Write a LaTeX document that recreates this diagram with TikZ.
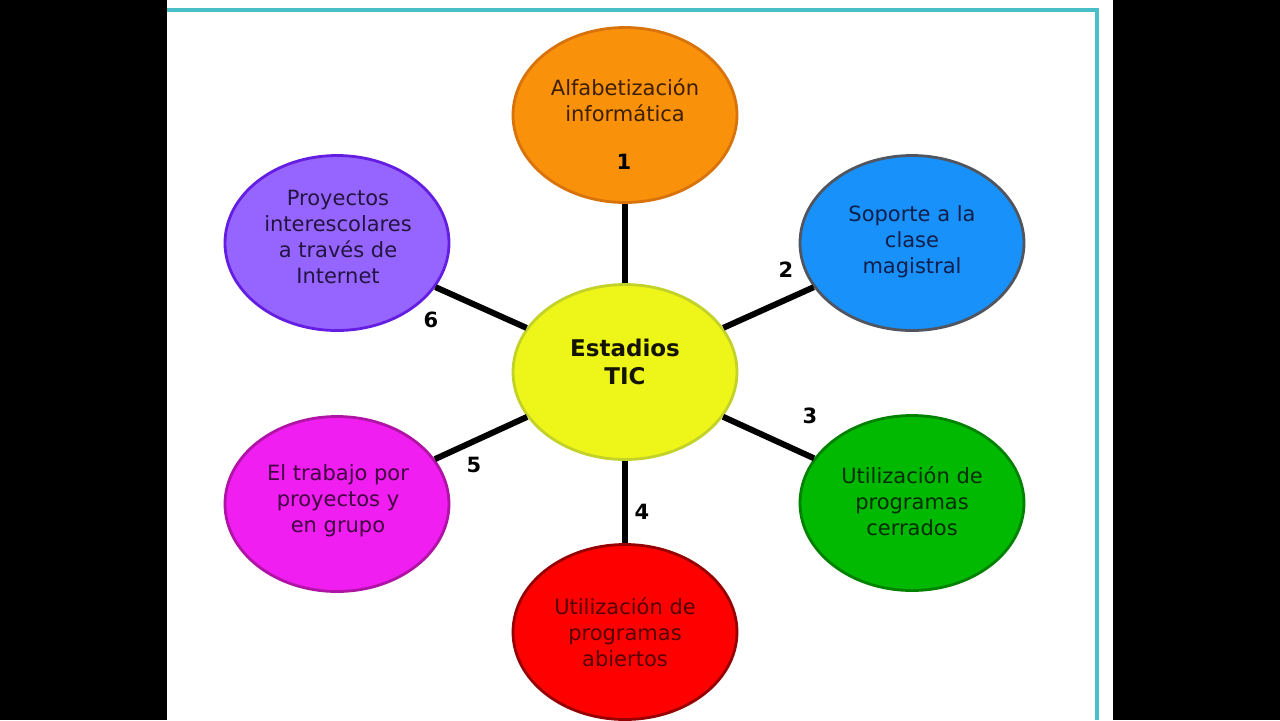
\documentclass[tikz,border=0pt]{standalone}
\usepackage{fontspec}
\setmainfont{DejaVu Sans}
\usetikzlibrary{shapes.geometric}
\definecolor{tealline}{RGB}{72,190,200}
\definecolor{orF}{RGB}{250,145,10}\definecolor{orD}{RGB}{215,115,10}\definecolor{orT}{RGB}{60,30,0}
\definecolor{blF}{RGB}{25,145,250}\definecolor{blD}{RGB}{80,85,95}\definecolor{blT}{RGB}{15,30,75}
\definecolor{puF}{RGB}{150,100,255}\definecolor{puD}{RGB}{100,30,225}\definecolor{puT}{RGB}{35,20,65}
\definecolor{yeF}{RGB}{238,245,25}\definecolor{yeD}{RGB}{195,210,40}\definecolor{yeT}{RGB}{20,20,0}
\definecolor{maF}{RGB}{240,30,240}\definecolor{maD}{RGB}{175,20,165}\definecolor{maT}{RGB}{65,0,65}
\definecolor{grF}{RGB}{0,185,0}\definecolor{grD}{RGB}{0,130,0}\definecolor{grT}{RGB}{0,45,0}
\definecolor{reF}{RGB}{255,0,0}\definecolor{reD}{RGB}{150,0,0}\definecolor{reT}{RGB}{85,0,0}
\begin{document}
\begin{tikzpicture}[x=0.5pt,y=-0.5pt,
  bubble/.style={ellipse, minimum width=112pt, minimum height=87.5pt, inner sep=0pt, line width=1.4pt},
  btext/.style={align=center, inner sep=0pt, font=\fontsize{10.5}{13}\selectfont},
  link/.style={line width=3pt, draw=black},
  num/.style={inner sep=0pt, font=\fontsize{10.5}{12}\selectfont\bfseries}]
\useasboundingbox (0,0) rectangle (1280,720);
\fill[black] (0,0) rectangle (167,720);
\fill[black] (1113,0) rectangle (1280,720);
\fill[white] (167,0) rectangle (1113,720);
\draw[tealline, line width=2pt] (167,10) -- (1097,10) -- (1097,720);

% ellipses
\node[bubble, fill=orF, draw=orD] (alfa) at (625,115) {};
\node[bubble, fill=blF, draw=blD] (sop) at (912,243) {};
\node[bubble, fill=puF, draw=puD] (pro) at (337,243) {};
\node[bubble, fill=yeF, draw=yeD] (est) at (625,372) {};
\node[bubble, fill=maF, draw=maD] (tra) at (337,504) {};
\node[bubble, fill=grF, draw=grD] (cer) at (912,503) {};
\node[bubble, fill=reF, draw=reD] (abi) at (625,632) {};

% connectors
\draw[link] (est) -- (alfa);
\draw[link] (est) -- (sop);
\draw[link] (est) -- (cer);
\draw[link] (est) -- (abi);
\draw[link] (est) -- (tra);
\draw[link] (est) -- (pro);

% texts
\node[btext, text=orT] (alfat) at (625,100) {Alfabetización\\informática};
\node[btext, text=blT] (sopt) at (912,242) {Soporte a la\\clase\\magistral};
\node[btext, text=puT] (prot) at (338,237) {Proyectos\\interescolares\\a través de\\Internet};
\node[btext, text=yeT, font=\fontsize{11.5}{14}\selectfont\bfseries] (estt) at (625,362) {Estadios\\TIC};
\node[btext, text=maT] (trat) at (338,501) {El trabajo por\\proyectos y\\en grupo};
\node[btext, text=grT] (cert) at (912,501) {Utilización de\\programas\\cerrados};
\node[btext, text=reT] (abit) at (625,632) {Utilización de\\programas\\abiertos};

% numbers
\node[num] (n1) at (624,162) {1};
\node[num] (n2) at (786,270) {2};
\node[num] (n3) at (810,416) {3};
\node[num] (n4) at (642,512) {4};
\node[num] (n5) at (474,465) {5};
\node[num] (n6) at (431,320) {6};
\end{tikzpicture}
\end{document}
